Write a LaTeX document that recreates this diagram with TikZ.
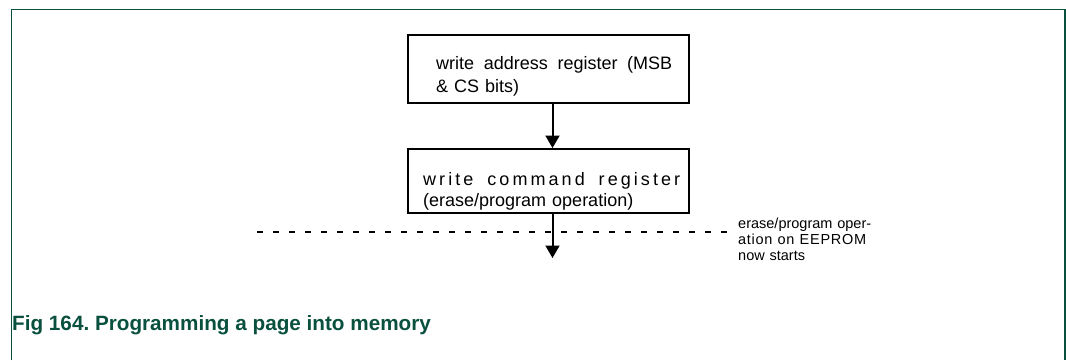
\documentclass[tikz,border=0pt]{standalone}
\usepackage{fontspec}
\setmainfont{Liberation Sans}
\usetikzlibrary{arrows.meta}
\definecolor{nxpgreen}{RGB}{10,80,62}
\newcommand{\spreadline}[2]{\makebox[#1][s]{\spaceskip=0.278em plus 1fil\relax #2}}

\begin{document}
\begin{tikzpicture}[x=1pt, y=-1pt,
    box/.style={draw, line width=2pt, minimum width=281pt, inner sep=0pt},
    boxtext/.style={anchor=base west, inner sep=0pt, align=left, text width=270pt},
    flow/.style={-{Triangle[width=14pt,length=12.5pt]}, line width=2pt},
    sep/.style={line width=1.6pt, dash pattern=on 5.5pt off 10.5pt, shorten >=3pt},
    frame/.style={draw=nxpgreen, line width=1.5pt},
]
    \useasboundingbox (0,0) rectangle (1066,360);

    % outer frame, open at the bottom
    \draw[frame] (11.5,360) -- (11.5,9.5) -- (1065,9.5) -- (1065,360);

    % address register
    \node[box, minimum height=68pt] (addr) at (548.5,69) {};
    \node[boxtext, font=\fontsize{18}{23}\selectfont] (addrtxt) at (436,69)
        {\spreadline{236pt}{write address register (MSB}\\\& CS bits)};

    % command register
    \node[box, minimum height=64pt] (cmd) at (548.5,181) {};
    \node[boxtext, font=\fontsize{18}{21}\selectfont] (cmdtxt) at (423,185)
        {\spreadline{257pt}{\addfontfeature{LetterSpace=17}write command register}\\(erase/program operation)};

    % arrows
    \draw[flow] ([xshift=4pt]addr.south) -- ([xshift=4pt]cmd.north);
    \coordinate (after) at (552.5,258);
    \draw[flow] ([xshift=4pt]cmd.south) -- (after);

    % start of the operation
    \node[anchor=base west, inner sep=0pt, align=left, text width=140pt, font=\fontsize{14.5}{16}\selectfont] (note) at (738,228)
        {erase/program oper-\\\spreadline{128pt}{\addfontfeature{LetterSpace=5}ation on EEPROM}\\now starts};
    \coordinate (dashL) at (257,232);
    \draw[sep] (dashL) -- (dashL -| note.west);

    % caption
    \node[anchor=base west, inner sep=0pt, text=nxpgreen, font=\bfseries\fontsize{20.7}{24}\selectfont] (figcap) at (12,330)
        {Fig 164.\ Programming a page into memory};
\end{tikzpicture}
\end{document}
